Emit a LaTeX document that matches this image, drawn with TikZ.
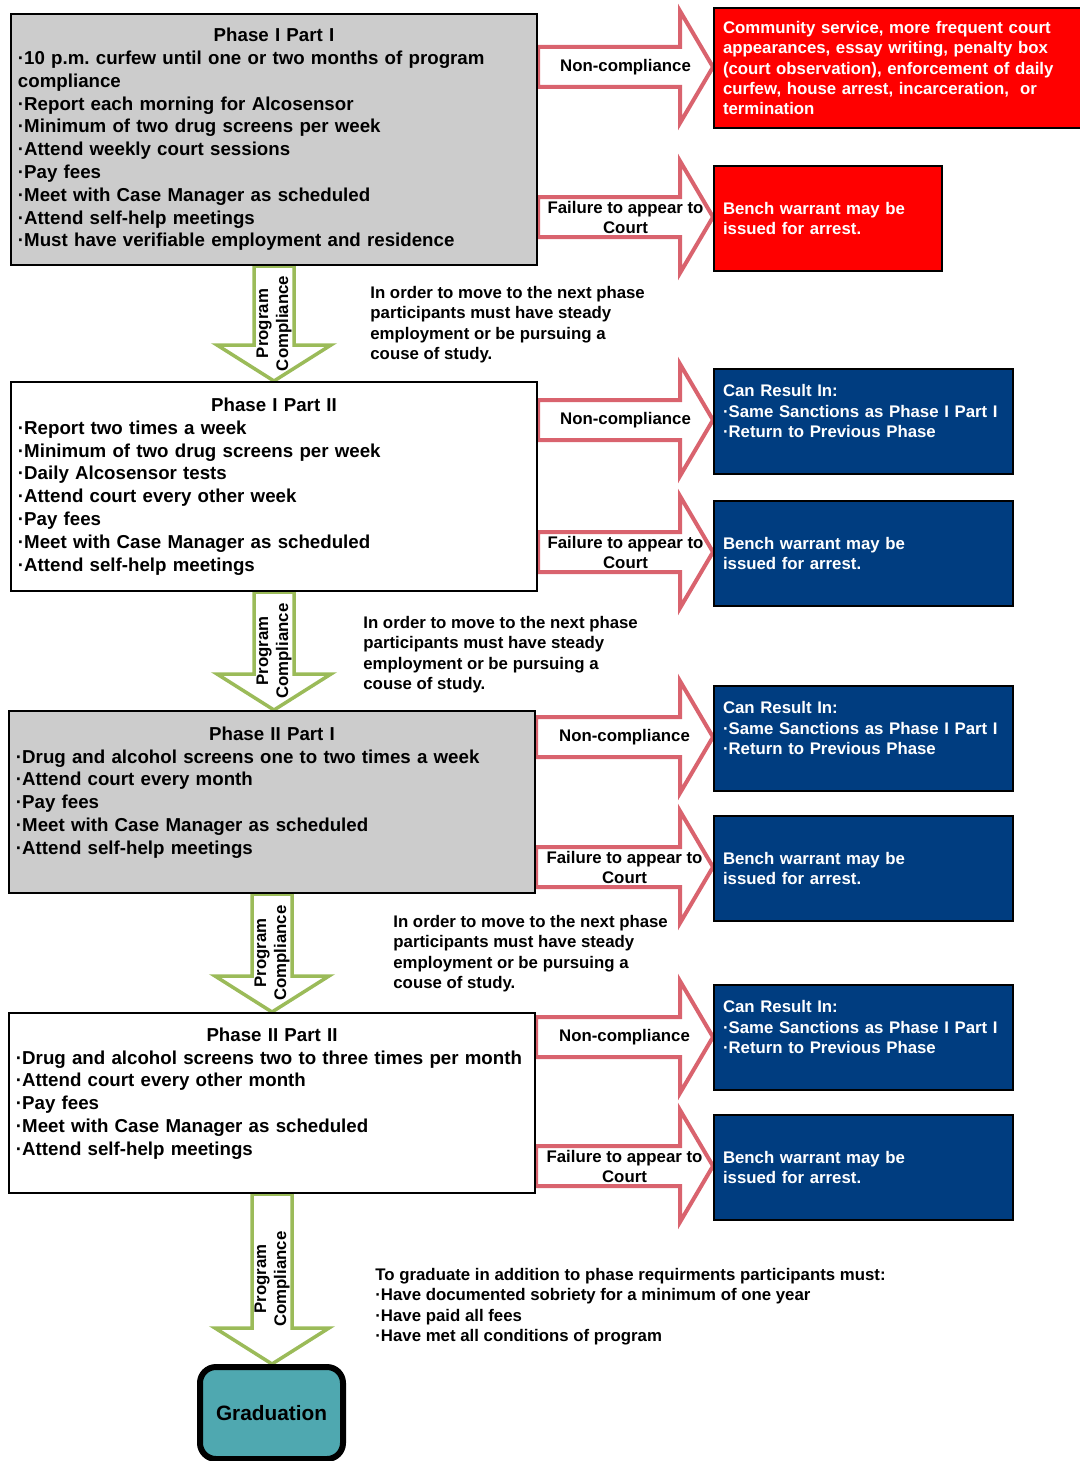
\documentclass[tikz,border=0pt]{standalone}
\usepackage{fontspec}
\setmainfont{Liberation Sans}
\usetikzlibrary{calc,backgrounds}
\frenchspacing
\definecolor{phasegray}{RGB}{204,204,204}
\definecolor{sanctred}{RGB}{255,0,0}
\definecolor{sanctblue}{RGB}{0,61,128}
\definecolor{arrowred}{RGB}{217,99,110}
\definecolor{arrowgreen}{RGB}{155,187,89}
\definecolor{gradteal}{RGB}{79,168,176}

\newcommand{\sanction}[4]{%
\path (#1.east |- 0,#3) coordinate (sa) (#2.west |- 0,#3) coordinate (sb);
\begin{scope}[on background layer]
\draw[redblock] ($(sa)+(0,-20)$) -- ($(sb)+(-33,-20)$) -- ($(sb)+(-33,-56)$) -- (sb) -- ($(sb)+(-33,56)$) -- ($(sb)+(-33,20)$) -- ($(sa)+(0,20)$) -- cycle;
\end{scope}
\node[blocklabel] at ($(sa)!.5!(sb)$) {#4};}

\newcommand{\compliance}[2]{%
\path (#1.south) coordinate (ca) (#2.north -| #1.south) coordinate (cb);
\begin{scope}[on background layer]
\draw[greenblock] ($(ca)+(-20,0)$) -- ($(cb)+(-20,-36)$) -- ($(cb)+(-57,-36)$) -- (cb) -- ($(cb)+(57,-36)$) -- ($(cb)+(20,-36)$) -- ($(ca)+(20,0)$) -- cycle;
\end{scope}
\node[compllabel] at ($(ca)!.5!(cb)$) {Program\\Compliance};}

\begin{document}
\begin{tikzpicture}[x=0.5pt,y=-0.5pt]
\tikzset{phase/.style={draw,line width=1pt,anchor=north west,text width=256pt,inner xsep=3.5pt,align=left,font=\parindent0pt\bfseries\fontsize{9.35}{11.4}\selectfont},
sanct/.style={draw,line width=1pt,anchor=north west,text=white,inner xsep=4.5pt,align=left,font=\parindent0pt\bfseries\fontsize{8.4}{10.2}\selectfont},
redblock/.style={draw=arrowred,fill=white,line width=2pt},
greenblock/.style={draw=arrowgreen,fill=white,line width=1.75pt},
blocklabel/.style={align=center,inner sep=0pt,font=\bfseries\fontsize{8.4}{10}\selectfont},
compllabel/.style={rotate=90,align=center,inner sep=0pt,font=\bfseries\fontsize{8.4}{10}\selectfont},
note/.style={anchor=north west,align=left,inner sep=0pt,font=\bfseries\fontsize{8.4}{10.2}\selectfont},
grad/.style={draw,line width=3pt,fill=gradteal,rounded corners=8pt,minimum width=71.5pt,minimum height=46pt,anchor=north,font=\bfseries\fontsize{10.4}{12}\selectfont}}
\useasboundingbox (0,0) rectangle (1080,1461);

\node[phase,fill=phasegray,minimum height=125.5pt] (p1) at (10,13) {{\centering Phase I Part I\par}·10 p.m. curfew until one or two months of program\\compliance\\·Report each morning for Alcosensor\\·Minimum of two drug screens per week\\·Attend weekly court sessions\\·Pay fees\\·Meet with Case Manager as scheduled\\·Attend self-help meetings\\·Must have verifiable employment and residence};
\node[phase,fill=white,minimum height=104.5pt] (p2) at (10,381) {{\centering Phase I Part II\par}·Report two times a week\\·Minimum of two drug screens per week\\·Daily Alcosensor tests\\·Attend court every other week\\·Pay fees\\·Meet with Case Manager as scheduled\\·Attend self-help meetings};
\node[phase,fill=phasegray,minimum height=91pt] (p3) at (8,710) {{\centering Phase II Part I\par}·Drug and alcohol screens one to two times a week\\·Attend court every month\\·Pay fees\\·Meet with Case Manager as scheduled\\·Attend self-help meetings\\\mbox{}};
\node[phase,fill=white,minimum height=90pt] (p4) at (8,1012) {{\centering Phase II Part II\par}·Drug and alcohol screens two to three times per month\\·Attend court every other month\\·Pay fees\\·Meet with Case Manager as scheduled\\·Attend self-help meetings\\\mbox{}};

\node[sanct,fill=sanctred,text width=174.5pt,minimum height=60pt] (s1) at (713,7) {Community service, more frequent court\\appearances, essay writing, penalty box\\(court observation), enforcement of daily\\curfew, house arrest, incarceration,\ \ or\\termination};
\node[sanct,fill=sanctred,text width=105pt,minimum height=52.5pt] (w1) at (713,165) {Bench warrant may be\\issued for arrest.};
\node[sanct,fill=sanctblue,text width=140.5pt,minimum height=52.5pt] (s2) at (713,368) {Can Result In:\\·Same Sanctions as Phase I Part I\\·Return to Previous Phase\\\mbox{}};
\node[sanct,fill=sanctblue,text width=140.5pt,minimum height=52.5pt] (w2) at (713,500) {Bench warrant may be\\issued for arrest.};
\node[sanct,fill=sanctblue,text width=140.5pt,minimum height=52.5pt] (s3) at (713,685) {Can Result In:\\·Same Sanctions as Phase I Part I\\·Return to Previous Phase\\\mbox{}};
\node[sanct,fill=sanctblue,text width=140.5pt,minimum height=52.5pt] (w3) at (713,815) {Bench warrant may be\\issued for arrest.};
\node[sanct,fill=sanctblue,text width=140.5pt,minimum height=52.5pt] (s4) at (713,984) {Can Result In:\\·Same Sanctions as Phase I Part I\\·Return to Previous Phase\\\mbox{}};
\node[sanct,fill=sanctblue,text width=140.5pt,minimum height=52.5pt] (w4) at (713,1114) {Bench warrant may be\\issued for arrest.};

\node[grad] (grad) at (271.5,1364) {Graduation};

\sanction{p1}{s1}{67}{Non-compliance}
\sanction{p1}{w1}{217}{Failure to appear to\\Court}
\sanction{p2}{s2}{420}{Non-compliance}
\sanction{p2}{w2}{552}{Failure to appear to\\Court}
\sanction{p3}{s3}{737}{Non-compliance}
\sanction{p3}{w3}{867}{Failure to appear to\\Court}
\sanction{p4}{s4}{1037}{Non-compliance}
\sanction{p4}{w4}{1166}{Failure to appear to\\Court}

\compliance{p1}{p2}
\compliance{p2}{p3}
\compliance{p3}{p4}
\compliance{p4}{grad}

\node[note] (n1) at (370,286) {In order to move to the next phase\\participants must have steady\\employment or be pursuing a\\couse of study.};
\node[note] (n2) at (363,616) {In order to move to the next phase\\participants must have steady\\employment or be pursuing a\\couse of study.};
\node[note] (n3) at (393,915) {In order to move to the next phase\\participants must have steady\\employment or be pursuing a\\couse of study.};
\node[note] (n4) at (375,1268) {To graduate in addition to phase requirments participants must:\\·Have documented sobriety for a minimum of one year\\·Have paid all fees\\·Have met all conditions of program};

\end{tikzpicture}
\end{document}
